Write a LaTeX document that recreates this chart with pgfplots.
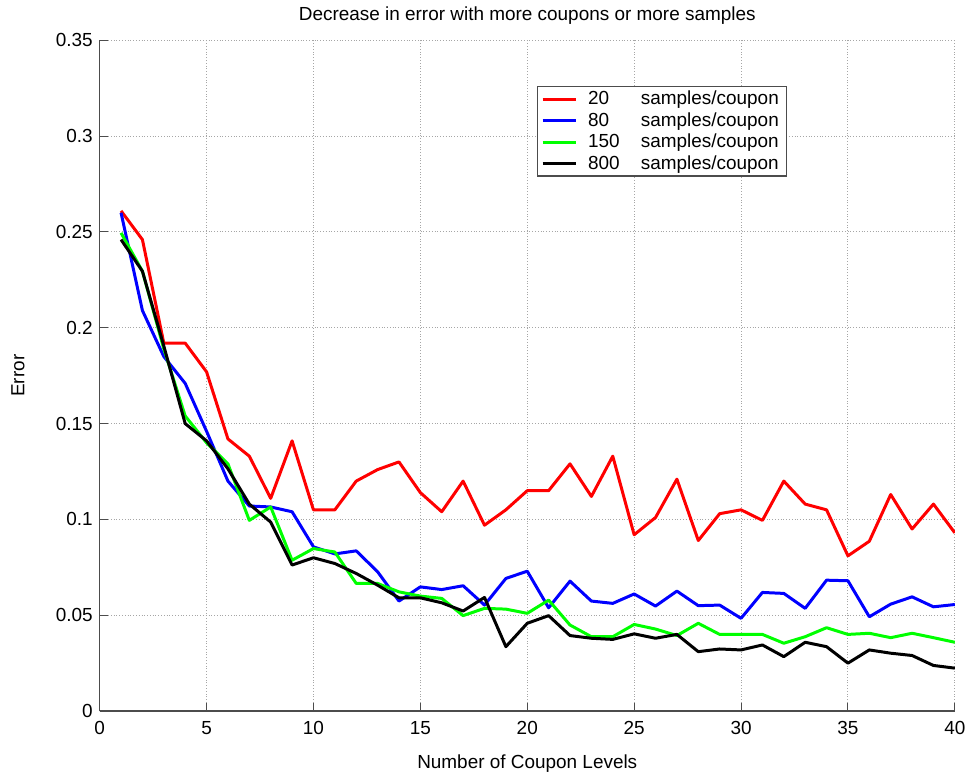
\documentclass[border=0pt]{standalone}
\usepackage{pgfplots}
\pgfplotsset{compat=1.18}
\usepackage{fontspec}
\setmainfont{Liberation Sans}
\begin{document}
\begin{tikzpicture}
\pgfplotsset{
  every axis title/.style={at={(0.5,1)}, anchor=base, yshift=10pt},
  every axis y label/.style={at={(axis description cs:-0.0956,0.5)}, anchor=center, rotate=90},
  every axis x label/.style={at={(axis description cs:0.5,0)}, anchor=base, yshift=-29pt},
}
\begin{axis}[
  name=ax,
  scale only axis,
  width=429pt, height=336.5pt,
  xmin=0, xmax=40, ymin=0, ymax=0.35,
  xtick={0,5,...,40},
  ytick={0,0.05,0.1,0.15,0.2,0.25,0.3,0.35},
  yticklabels={0,0.05,0.1,0.15,0.2,0.25,0.3,0.35},
  axis x line*=bottom, axis y line*=left,
  axis line style={-, black!70, line width=0.6pt},
  tick align=inside,
  major tick length=4pt,
  tick style={black!70, line width=0.5pt},
  grid=major,
  major grid style={densely dotted, black!35, line width=0.5pt},
  /pgf/number format/assume math mode=true,
  font=\fontsize{9.5}{11}\selectfont,
  ticklabel style={font=\fontsize{9.5}{11}\selectfont},
  xticklabel style={yshift=-1.5pt},
  title={Decrease in error with more coupons or more samples},
  xlabel={Number of Coupon Levels},
  ylabel={Error},
  legend style={at={(0.511,0.9315)}, anchor=north west, draw=black!70, line width=0.6pt,
    font=\fontsize{9.5}{11}\selectfont, row sep=-1.6pt, inner xsep=2pt, inner ysep=0pt},
  legend cell align=left,
  legend image code/.code={\draw[#1, line width=1.5pt] (2pt,0pt) -- (18.5pt,0pt);},
  every axis plot/.append style={line width=1.5pt, line join=round},
]
\addplot[color={rgb,1:red,1;green,0;blue,0}] coordinates {
(1,0.261)(2,0.246)(3,0.192)(4,0.192)(5,0.177)(6,0.142)(7,0.133)(8,0.111)(9,0.141)(10,0.105)
(11,0.105)(12,0.120)(13,0.126)(14,0.130)(15,0.114)(16,0.104)(17,0.120)(18,0.097)(19,0.105)(20,0.115)
(21,0.115)(22,0.129)(23,0.112)(24,0.133)(25,0.092)(26,0.101)(27,0.121)(28,0.089)(29,0.103)(30,0.105)
(31,0.0995)(32,0.120)(33,0.108)(34,0.105)(35,0.081)(36,0.0886)(37,0.113)(38,0.095)(39,0.108)(40,0.093)};
\addlegendentry{\hspace{3.5pt}\makebox[26.5pt][l]{20}samples/coupon}
\addplot[color={rgb,1:red,0;green,0;blue,1}] coordinates {
(1,0.260)(2,0.209)(3,0.185)(4,0.171)(5,0.146)(6,0.120)(7,0.107)(8,0.1065)(9,0.104)(10,0.0857)
(11,0.082)(12,0.0836)(13,0.0727)(14,0.0574)(15,0.0648)(16,0.0634)(17,0.0654)(18,0.0553)(19,0.0692)(20,0.073)
(21,0.0539)(22,0.0678)(23,0.0574)(24,0.0562)(25,0.0611)(26,0.0548)(27,0.0626)(28,0.055)(29,0.0553)(30,0.0484)
(31,0.0619)(32,0.0614)(33,0.0536)(34,0.0683)(35,0.068)(36,0.0492)(37,0.0558)(38,0.0596)(39,0.0544)(40,0.0556)};
\addlegendentry{\hspace{3.5pt}\makebox[26.5pt][l]{80}samples/coupon}
\addplot[color={rgb,1:red,0;green,1;blue,0}] coordinates {
(1,0.2495)(2,0.2295)(3,0.189)(4,0.154)(5,0.140)(6,0.129)(7,0.0995)(8,0.1065)(9,0.0787)(10,0.0848)
(11,0.083)(12,0.0666)(13,0.0666)(14,0.0622)(15,0.060)(16,0.0588)(17,0.0498)(18,0.0536)(19,0.0532)(20,0.051)
(21,0.0579)(22,0.0449)(23,0.0388)(24,0.0388)(25,0.0452)(26,0.0428)(27,0.0394)(28,0.0458)(29,0.040)(30,0.040)
(31,0.040)(32,0.0354)(33,0.0388)(34,0.0435)(35,0.040)(36,0.0406)(37,0.0383)(38,0.0406)(39,0.0383)(40,0.0359)};
\addlegendentry{\hspace{3.5pt}\makebox[26.5pt][l]{150}samples/coupon}
\addplot[color=black] coordinates {
(1,0.246)(2,0.2295)(3,0.1905)(4,0.150)(5,0.141)(6,0.1264)(7,0.108)(8,0.0986)(9,0.0762)(10,0.0800)
(11,0.077)(12,0.0718)(13,0.0657)(14,0.0591)(15,0.0591)(16,0.0565)(17,0.0522)(18,0.0593)(19,0.0336)(20,0.0458)
(21,0.0498)(22,0.0394)(23,0.038)(24,0.0374)(25,0.0403)(26,0.038)(27,0.040)(28,0.031)(29,0.0324)(30,0.0319)
(31,0.0345)(32,0.0284)(33,0.0359)(34,0.0336)(35,0.025)(36,0.0319)(37,0.0302)(38,0.029)(39,0.0238)(40,0.0224)};
\addlegendentry{\hspace{3.5pt}\makebox[26.5pt][l]{800}samples/coupon}
\end{axis}
\path (ax.south west) ++(-50pt,-32.5pt) coordinate (bl);
\path (ax.north east) ++(7pt,20pt) coordinate (tr);
\path[use as bounding box] (bl) rectangle (tr);
\end{tikzpicture}
\end{document}
